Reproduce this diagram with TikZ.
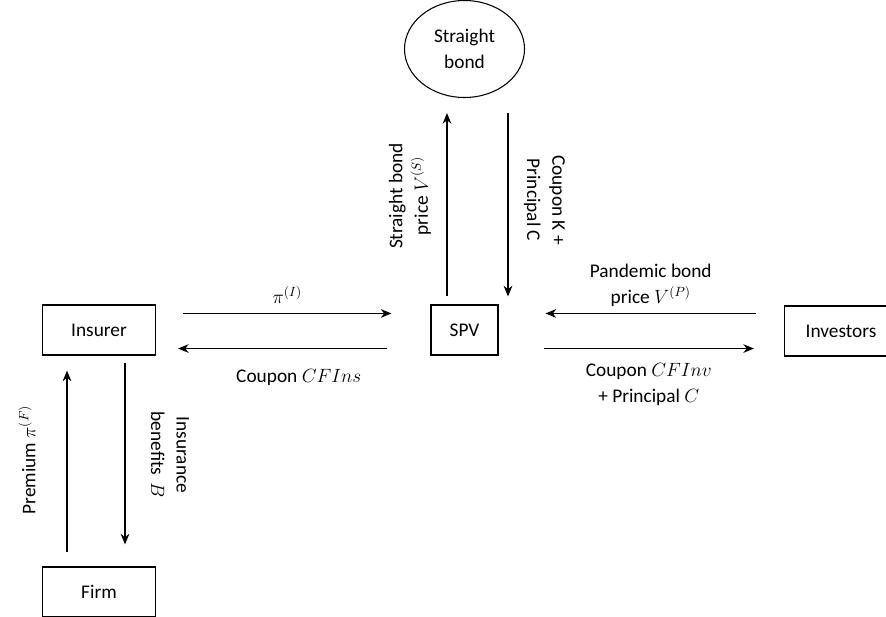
\documentclass[tikz,border=0pt]{standalone}
\usepackage{fontspec}
\setmainfont{Carlito}
\usetikzlibrary{positioning,shapes.geometric,arrows.meta}

\begin{document}
\begin{tikzpicture}[x=0.75pt,y=-0.75pt,
  font=\fontsize{14.5}{19}\selectfont,
  party/.style={draw,line width=0.8pt,minimum width=84.75pt,minimum height=37.5pt,inner sep=0pt},
  flow/.style={line width=1pt,-{Stealth[length=8pt,width=6.5pt]}},
  lbl/.style={align=center,inner sep=2pt}]
  \useasboundingbox (0,0) rectangle (886,617);

  \node[party] (ins) at (99,330) {Insurer};
  \node[party,minimum width=50.25pt] (spv) at (464.5,330) {SPV};
  \node[party] (inv) at (841,331) {Investors};
  \node[party] (firm) at (99,592) {Firm};
  \node[draw,line width=0.8pt,ellipse,minimum width=90pt,minimum height=72.75pt,inner sep=0pt,align=center] (sb) at (464.5,49) {Straight\\bond};

  % insurer <-> spv
  \draw[flow] ([shift={(27,9)}]ins.north east) -- ([shift={(-39,9)}]spv.north west)
    node[lbl,midway,above=5pt] (lpi) {$\pi^{(I)}$};
  \draw[flow] ([shift={(-43,-7)}]spv.south west) -- ([shift={(22,-7)}]ins.south east)
    node[lbl,midway,below=13pt,xshift=12] (lcfins) {Coupon $CFIns$};

  % spv <-> investors
  \draw[flow] ([shift={(-28,8)}]inv.north west) -- ([shift={(47,9)}]spv.north east)
    node[lbl,midway,above=3pt] (lvp) {Pandemic bond\\price $V^{(P)}$};
  \draw[flow] ([shift={(45,-7)}]spv.south east) -- ([shift={(-30,-8)}]inv.south west)
    node[lbl,midway,below=9pt] (lcfinv) {Coupon $CFInv$\\+ Principal $C$};

  % spv <-> straight bond
  \draw[flow] ([shift={(-17.5,-8)}]spv.north) -- ([shift={(-17.5,15)}]sb.south);
  \draw[flow] ([shift={(43.5,15)}]sb.south) -- ([shift={(43.5,-8)}]spv.north);
  \node[lbl,rotate=90] (lvs) at (410,196) {Straight bond\\price $V^{(S)}$};
  \node[lbl,rotate=-90] (lkc) at (544.5,200) {Coupon K +\\Principal C};

  % firm <-> insurer
  \draw[flow] ([shift={(-32,-14)}]firm.north) -- ([shift={(-32,15)}]ins.south);
  \draw[flow] ([shift={(26,7)}]ins.south) -- ([shift={(26,-22)}]firm.north);
  \node[lbl,rotate=90] (lpf) at (27,460) {Premium $\pi^{(F)}$};
  \node[lbl,rotate=-90] (lben) at (170,455) {Insurance\\benefits \,$B$};
\end{tikzpicture}
\end{document}
